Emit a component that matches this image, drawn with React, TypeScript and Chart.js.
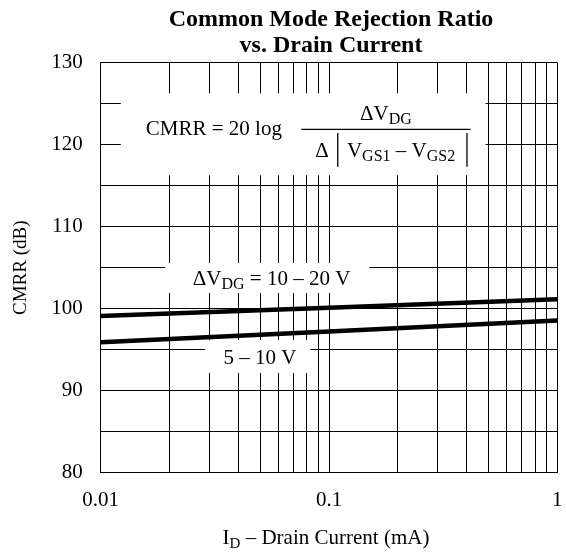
import React, { useEffect, useRef } from 'react';
import { Chart, registerables } from 'chart.js';

Chart.register(...registerables);

// ---- data ----
const drainCurrentMA = [0.01, 0.1, 1];
const cmrrVdg10to20 = [99.1, 100.12, 101.15];
const cmrrVdg5to10 = [95.9, 97.22, 98.55];

const xGridValues = [
  0.01, 0.02, 0.03, 0.04, 0.05, 0.06, 0.07, 0.08, 0.09,
  0.1, 0.2, 0.3, 0.4, 0.5, 0.6, 0.7, 0.8, 0.9, 1,
];
const xTickLabels = [0.01, 0.1, 1];
const yTickLabels = [80, 90, 100, 110, 120, 130];

const titleLines = ['Common Mode Rejection Ratio', 'vs. Drain Current'];
const yAxisTitle = 'CMRR (dB)';

// ---- layout / style ----
const SERIF = '"Liberation Serif", "Times New Roman", serif';
const W = 566;
const H = 552;

type Part = { t: string; sub?: boolean };

function drawParts(
  ctx: CanvasRenderingContext2D,
  parts: Part[],
  x: number,
  y: number,
  size: number,
  subSize: number,
  subDrop: number,
  align: 'left' | 'center',
  bold = false
) {
  const weight = bold ? 'bold ' : '';
  const widths = parts.map((p) => {
    ctx.font = `${weight}${p.sub ? subSize : size}px ${SERIF}`;
    return ctx.measureText(p.t).width;
  });
  const total = widths.reduce((a, b) => a + b, 0);
  let cx = align === 'center' ? x - total / 2 : x;
  ctx.textAlign = 'left';
  ctx.textBaseline = 'alphabetic';
  parts.forEach((p, i) => {
    ctx.font = `${weight}${p.sub ? subSize : size}px ${SERIF}`;
    ctx.fillText(p.t, cx, p.sub ? y + subDrop : y);
    cx += widths[i];
  });
  return total;
}

// annotation placement in data coordinates (x: mA, y: dB)
const formulaBox = { x0: 0.01224, x1: 0.485, y0: 126.27, y1: 116.27 };
const formulaTextX = 0.01576;
const fractionBar = { x0: 0.07558, x1: 0.4166, y: 121.88 };
const label1Box = { x0: 0.01914, x1: 0.1502, y0: 105.57, y1: 101.91 };
const label1Text = { x: 0.02532, y: 102.89 };
const label2Box = { x0: 0.02868, x1: 0.08288, y0: 96.18, y1: 92.16 };
const label2Text = { x: 0.03449, y: 93.26 };

const annotationPlugin = {
  id: 'cmrrAnnotations',
  beforeDatasetsDraw(chart: any) {
    const { ctx, scales } = chart;
    const xs = scales.x;
    const ys = scales.y;
    ctx.save();
    ctx.fillStyle = '#ffffff';
    [formulaBox, label1Box, label2Box].forEach((b) => {
      const x0 = xs.getPixelForValue(b.x0);
      const x1 = xs.getPixelForValue(b.x1);
      const y0 = ys.getPixelForValue(b.y0);
      const y1 = ys.getPixelForValue(b.y1);
      ctx.fillRect(x0, y0, x1 - x0, y1 - y0);
    });
    ctx.restore();
  },
  afterDraw(chart: any) {
    const { ctx, scales, chartArea } = chart;
    const xs = scales.x;
    const ys = scales.y;
    ctx.save();
    ctx.fillStyle = '#000';
    ctx.strokeStyle = '#000';

    // title
    const cx = (chartArea.left + chartArea.right) / 2;
    ctx.font = `bold 24px ${SERIF}`;
    ctx.textAlign = 'center';
    ctx.textBaseline = 'alphabetic';
    ctx.fillText(titleLines[0], cx + 2, 26);
    ctx.fillText(titleLines[1], cx + 2, 52);

    // y-axis title
    ctx.save();
    ctx.translate(21, (chartArea.top + chartArea.bottom) / 2);
    ctx.rotate(-Math.PI / 2);
    ctx.font = `19px ${SERIF}`;
    ctx.textAlign = 'center';
    ctx.textBaseline = 'middle';
    ctx.fillText(yAxisTitle, 0, 0);
    ctx.restore();

    // x-axis title
    drawParts(
      ctx,
      [{ t: 'I' }, { t: 'D', sub: true }, { t: ' \u2013 Drain Current (mA)' }],
      cx - 3,
      544,
      21,
      15,
      4,
      'center'
    );

    // formula
    const barY = ys.getPixelForValue(fractionBar.y);
    const barX0 = xs.getPixelForValue(fractionBar.x0);
    const barX1 = xs.getPixelForValue(fractionBar.x1);
    drawParts(ctx, [{ t: 'CMRR = 20 log' }], xs.getPixelForValue(formulaTextX), barY + 5.7, 21, 15, 4, 'left');
    ctx.lineWidth = 1.3;
    ctx.beginPath();
    ctx.moveTo(barX0, barY);
    ctx.lineTo(barX1, barY);
    ctx.stroke();
    drawParts(
      ctx,
      [{ t: '\u0394V' }, { t: 'DG', sub: true }],
      (barX0 + barX1) / 2,
      barY - 9.3,
      21,
      16,
      4,
      'center'
    );
    drawParts(ctx, [{ t: '\u0394' }], barX0 + 14, barY + 27.4, 21, 16, 4, 'left');
    ctx.beginPath();
    ctx.moveTo(barX0 + 36.5, barY + 3.7);
    ctx.lineTo(barX0 + 36.5, barY + 37.4);
    ctx.moveTo(barX1 - 3.5, barY + 3.7);
    ctx.lineTo(barX1 - 3.5, barY + 37.4);
    ctx.stroke();
    drawParts(
      ctx,
      [
        { t: 'V' },
        { t: 'GS1', sub: true },
        { t: ' \u2013 V' },
        { t: 'GS2', sub: true },
      ],
      barX0 + 45.7,
      barY + 27.4,
      21,
      16,
      4,
      'left'
    );

    // curve labels
    drawParts(
      ctx,
      [{ t: '\u0394V' }, { t: 'DG', sub: true }, { t: ' = 10 \u2013 20 V' }],
      xs.getPixelForValue(label1Text.x),
      ys.getPixelForValue(label1Text.y),
      21,
      16,
      4,
      'left'
    );
    drawParts(
      ctx,
      [{ t: '5 \u2013 10 V' }],
      xs.getPixelForValue(label2Text.x),
      ys.getPixelForValue(label2Text.y),
      21,
      16,
      4,
      'left'
    );
    ctx.restore();
  },
};

export default function App() {
  const canvasRef = useRef<HTMLCanvasElement | null>(null);

  useEffect(() => {
    document.body.style.margin = '0';
    const canvas = canvasRef.current;
    if (!canvas) return;

    const chart = new Chart(canvas, {
      type: 'line',
      data: {
        datasets: [
          {
            label: 'ΔVDG = 10 – 20 V',
            data: drainCurrentMA.map((x, i) => ({ x, y: cmrrVdg10to20[i] })),
            borderColor: '#000',
            borderWidth: 4.5,
            pointRadius: 0,
            tension: 0,
          },
          {
            label: '5 – 10 V',
            data: drainCurrentMA.map((x, i) => ({ x, y: cmrrVdg5to10[i] })),
            borderColor: '#000',
            borderWidth: 4.5,
            pointRadius: 0,
            tension: 0,
          },
        ],
      },
      options: {
        animation: false,
        responsive: false,
        devicePixelRatio: 1,
        layout: { padding: { top: 62.7, right: 8.7, bottom: 0, left: 0 } },
        plugins: {
          legend: { display: false },
          title: { display: false },
          tooltip: { enabled: false },
        },
        scales: {
          x: {
            type: 'logarithmic',
            min: 0.01,
            max: 1,
            afterBuildTicks: (scale: any) => {
              scale.ticks = xGridValues.map((v) => ({ value: v }));
            },
            afterFit: (scale: any) => {
              scale.height = H - 472.7;
              scale.paddingLeft = 0;
              scale.paddingRight = 0;
            },
            ticks: {
              autoSkip: false,
              maxRotation: 0,
              minRotation: 0,
              padding: 15,
              color: '#000',
              font: { family: SERIF, size: 21 },
              callback: (v: any) => (xTickLabels.includes(Number(v)) ? String(v) : ''),
            },
            grid: { color: '#000', lineWidth: 1, drawTicks: false },
            border: { color: '#000', width: 1 },
          },
          y: {
            type: 'linear',
            min: 80,
            max: 130,
            afterFit: (scale: any) => {
              scale.width = 100.7;
              scale.paddingTop = 0;
              scale.paddingBottom = 0;
            },
            ticks: {
              stepSize: 5,
              padding: 18,
              color: '#000',
              font: { family: SERIF, size: 21 },
              callback: (v: any) => (yTickLabels.includes(Number(v)) ? String(v) : ''),
            },
            grid: { color: '#000', lineWidth: 1, drawTicks: false },
            border: { color: '#000', width: 1 },
          },
        },
      },
      plugins: [annotationPlugin],
    });

    return () => chart.destroy();
  }, []);

  return (
    <div style={{ width: W, height: H, background: '#fff' }}>
      <canvas ref={canvasRef} width={W} height={H} />
    </div>
  );
}
